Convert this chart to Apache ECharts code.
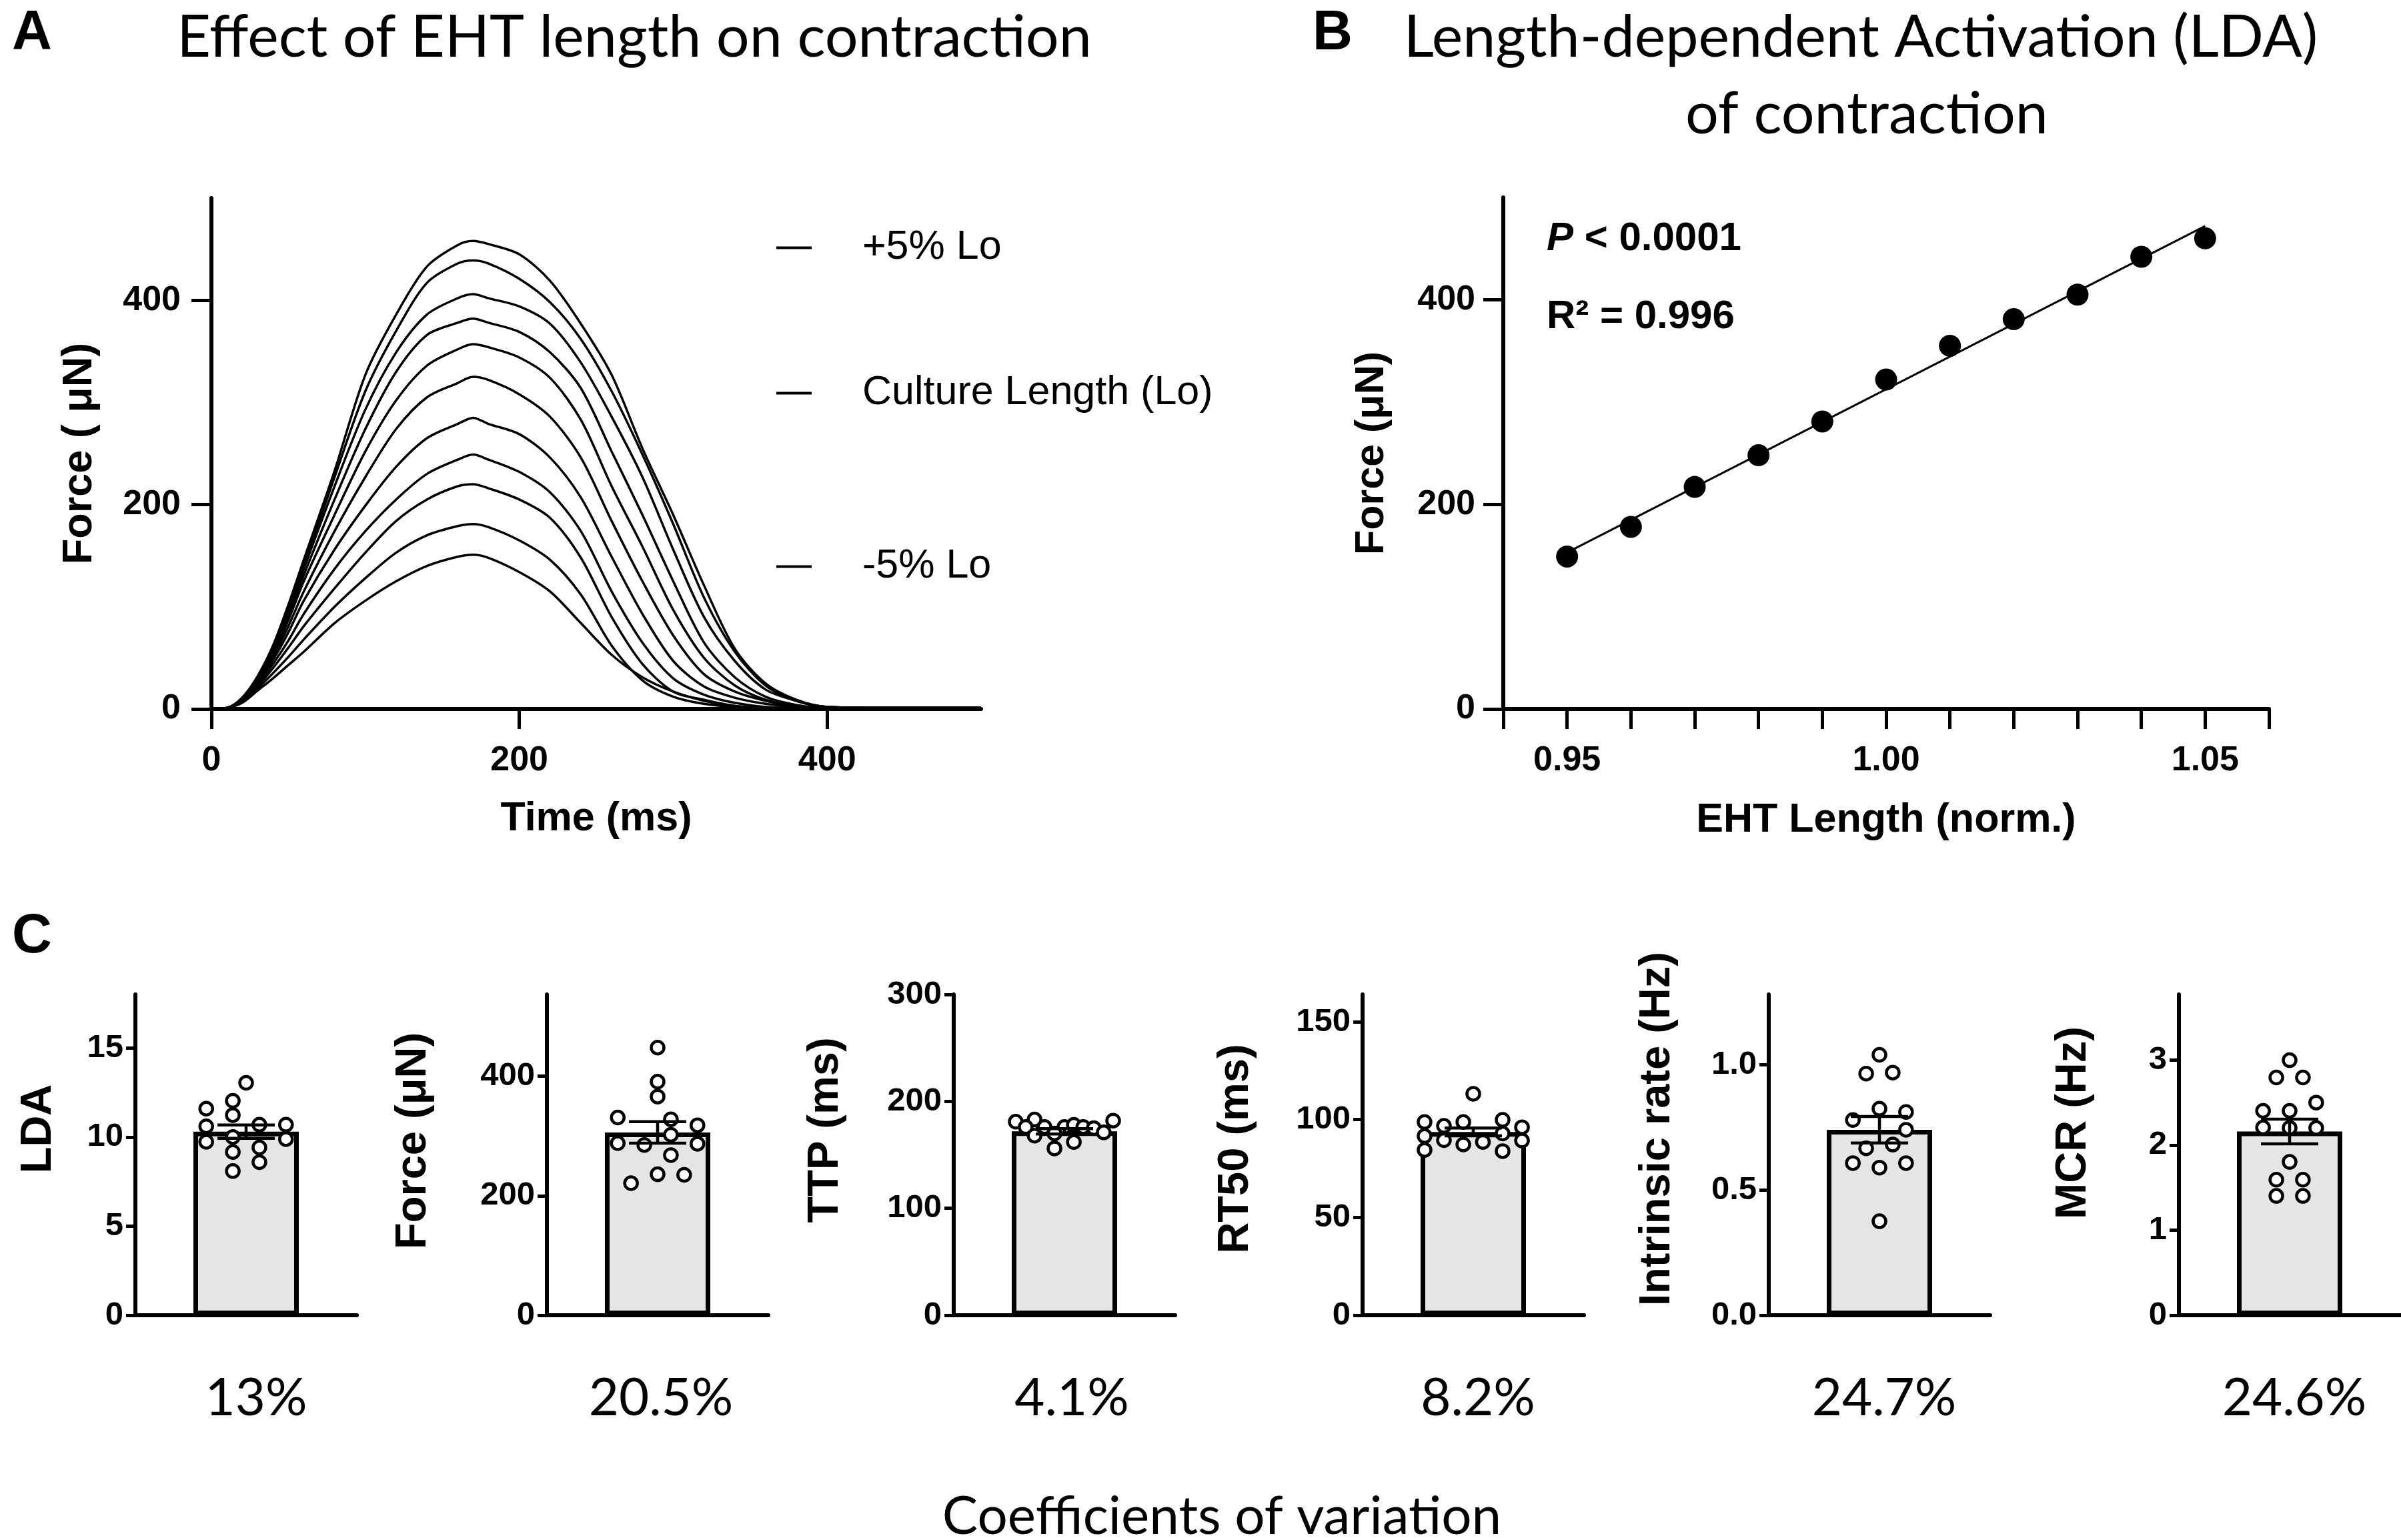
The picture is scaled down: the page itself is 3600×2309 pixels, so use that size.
<!DOCTYPE html>
<html>
<head>
<meta charset="utf-8">
<title>EHT length and contraction</title>
<script src="https://cdn.jsdelivr.net/npm/echarts@6.0.0/dist/echarts.min.js"></script>
<style>
  html, body { margin: 0; padding: 0; background: #fff; }
  #chart { width: 3600px; height: 2309px; }
</style>
</head>
<body>
<div id="chart"></div>
<script>
// A: twitch force traces (time in ms, force in uN)
const timeMs = [0, 10, 20, 30, 40, 50, 60, 80, 100, 120, 140, 160, 170, 180, 200, 220, 240, 260, 280, 300, 320, 340, 360, 380, 400, 450, 500];
const trace105 = [0, 1, 11, 32, 62, 102, 146, 233, 327, 386, 433, 454, 458, 455, 445, 419, 377, 327, 255, 190, 121, 59, 25, 9, 2, 1, 1];
const trace104 = [0, 1, 11, 31, 60, 98, 140, 227, 311, 370, 417, 436, 439, 436, 421, 398, 362, 311, 249, 181, 109, 56, 23, 8, 2, 1, 1];
const trace103 = [0, 1, 10, 30, 58, 95, 137, 218, 293, 349, 386, 402, 406, 402, 394, 377, 339, 286, 227, 156, 90, 47, 19, 8, 2, 1, 1];
const trace102 = [0, 1, 10, 29, 56, 91, 131, 205, 274, 330, 366, 378, 382, 378, 369, 349, 314, 252, 190, 125, 65, 31, 12, 4, 1, 1, 1];
const trace101 = [0, 1, 10, 28, 54, 87, 125, 190, 252, 302, 336, 352, 357, 354, 344, 324, 283, 218, 159, 97, 50, 23, 9, 3, 1, 1, 1];
const trace100 = [0, 1, 9, 27, 51, 81, 115, 174, 227, 274, 305, 319, 325, 322, 308, 286, 246, 184, 125, 72, 34, 17, 8, 3, 1, 1, 1];
const trace099 = [0, 1, 9, 26, 48, 75, 106, 156, 199, 237, 265, 279, 285, 279, 269, 246, 207, 149, 93, 47, 22, 11, 5, 2, 1, 1, 1];
const trace098 = [0, 1, 8, 24, 44, 67, 93, 137, 174, 205, 230, 244, 249, 244, 232, 212, 174, 115, 65, 30, 14, 6, 2, 1, 1, 1, 1];
const trace097 = [0, 1, 8, 22, 40, 60, 81, 118, 153, 184, 205, 218, 220, 216, 205, 187, 148, 90, 44, 17, 9, 3, 1, 1, 1, 1, 1];
const trace096 = [0, 1, 7, 20, 35, 51, 68, 100, 128, 153, 170, 179, 181, 178, 165, 146, 112, 62, 28, 12, 5, 2, 1, 1, 1, 1, 1];
const trace095 = [0, 1, 6, 18, 30, 43, 56, 84, 106, 125, 140, 149, 151, 148, 134, 115, 84, 53, 31, 17, 8, 3, 1, 1, 1, 1, 1];
const traceNames = ['-5% Lo', '-4% Lo', '-3% Lo', '-2% Lo', '-1% Lo', 'Culture Length (Lo)', '+1% Lo', '+2% Lo', '+3% Lo', '+4% Lo', '+5% Lo'];
const traces = [trace095, trace096, trace097, trace098, trace099, trace100, trace101, trace102, trace103, trace104, trace105];
const legendNames = ['+5% Lo', 'Culture Length (Lo)', '-5% Lo'];
const timeTicks = [0, 200, 400];
const forceTicks = [0, 200, 400];

// B: peak force vs normalised length, with the linear fit
const ehtLength = [0.95, 0.96, 0.97, 0.98, 0.99, 1.00, 1.01, 1.02, 1.03, 1.04, 1.05];
const peakForce = [149, 178, 217, 248, 281, 322, 355, 381, 405, 442, 460];
const fitLength = [0.95, 1.05];
const fitForce = [153, 472];
const lengthTicks = [0.94, 0.95, 0.96, 0.97, 0.98, 0.99, 1.00, 1.01, 1.02, 1.03, 1.04, 1.05, 1.06];
const lengthLabels = [0.95, 1.00, 1.05];

// C: per-tissue values, bar = mean, error = SEM
const ldaValues = [13.04, 12.03, 11.23, 11.59, 10.6, 10.69, 10.69, 9.73, 10.0, 9.88, 9.16, 9.41, 8.59, 8.09];
const ldaJitter = [0, -0.12, -0.12, -0.36, -0.36, 0.12, 0.36, -0.36, -0.12, 0.36, -0.12, 0.12, 0.12, -0.12];
const forceValues = [448, 391, 366, 331, 328, 318, 302, 288, 285, 287, 268, 236, 235, 221];
const forceJitter = [0, 0, 0, -0.36, 0.12, 0.36, 0.12, -0.36, -0.12, 0.36, 0.12, 0, 0.24, -0.24];
const ttpValues = [181, 183, 182, 176, 176, 176, 178, 176, 175, 168, 170, 162, 156, 171];
const ttpJitter = [-0.44, -0.27, 0.44, -0.35, -0.18, 0, 0.085, 0.17, 0.265, -0.27, -0.09, 0.085, -0.09, 0.355];
const rt50Values = [113.2, 98.8, 96.8, 98.8, 99.9, 96.1, 91.6, 89.5, 87.3, 88.6, 92.9, 89.3, 84.5, 83.9];
const rt50Jitter = [0, -0.44, -0.265, -0.09, 0.265, 0.44, -0.44, -0.265, -0.09, 0.087, 0.265, 0.44, -0.44, 0.265];
const rateValues = [1.039, 0.964, 0.968, 0.824, 0.779, 0.811, 0.740, 0.666, 0.681, 0.607, 0.589, 0.607, 0.375];
const rateJitter = [0, -0.12, 0.12, 0, -0.24, 0.24, 0.24, -0.12, 0.12, -0.24, 0, 0.24, 0];
const mcrValues = [2.997, 2.794, 2.794, 2.499, 2.402, 2.402, 2.206, 2.201, 2.201, 1.802, 1.593, 1.593, 1.402, 1.402];
const mcrJitter = [0, -0.12, 0.12, 0.24, -0.24, 0, -0.24, 0, 0.24, 0, -0.12, 0.12, -0.12, 0.12];
const barMeans = [10.3, 306, 172, 93.7, 0.74, 2.16];
const barSems = [0.37, 18, 2.5, 2.0, 0.053, 0.145];
const axisMax = [18, 537, 300, 164, 1.28, 3.77];
const cTicks = [[0, 5, 10, 15], [0, 200, 400], [0, 100, 200, 300], [0, 50, 100, 150], [0, 0.5, 1.0], [0, 1, 2, 3]];
const cNames = ['LDA', 'Force (μN)', 'TTP (ms)', 'RT50 (ms)', 'Intrinsic rate (Hz)', 'MCR (Hz)'];
const cvLabels = ['13%', '20.5%', '4.1%', '8.2%', '24.7%', '24.6%'];
const cValues = [ldaValues, forceValues, ttpValues, rt50Values, rateValues, mcrValues];
const cJitter = [ldaJitter, forceJitter, ttpJitter, rt50Jitter, rateJitter, mcrJitter];

// layout of the small panels (px)
const cLeft = [203, 820, 1430, 2043, 2652, 3267];
const cNameGap = [112, 167, 159, 157, 134, 125];
const cNameShift = [78, 42, 74, 18, 78, 96];
const cvShift = [30, 10, 22, 14, 14, 14];

const BOLD = 'Liberation Sans';
const SOFT = 'Lato';

function axisLine() {
  return { show: true, onZero: false, lineStyle: { color: '#000', width: 6 } };
}
function tick(len, values) {
  return { show: true, length: len, lineStyle: { color: '#000', width: 5 }, customValues: values };
}
function tickLabel(size, margin, values, fmt) {
  const l = { color: '#000', fontFamily: BOLD, fontWeight: 'bold', fontSize: size, margin: margin, customValues: values };
  if (fmt) l.formatter = fmt;
  return l;
}
const nameStyle = { color: '#000', fontFamily: BOLD, fontWeight: 'bold', fontSize: 61 };

const grids = [
  { left: 317, top: 297, width: 1154, height: 766, outerBoundsMode: 'none' },
  { left: 2254, top: 296, width: 1148, height: 767, outerBoundsMode: 'none' }
];
cLeft.forEach(l => grids.push({ left: l, top: 1491, width: 332, height: 481, outerBoundsMode: 'none' }));

const xAxes = [
  {
    type: 'value', gridIndex: 0, min: 0, max: 500,
    axisLine: axisLine(), axisTick: tick(30, timeTicks), axisLabel: tickLabel(52, 52, timeTicks),
    splitLine: { show: false },
    name: 'Time (ms)', nameLocation: 'middle', nameGap: 135, nameTextStyle: nameStyle
  },
  {
    type: 'value', gridIndex: 1, min: 0.94, max: 1.06,
    axisLine: axisLine(), axisTick: tick(30, lengthTicks),
    axisLabel: tickLabel(52, 52, lengthLabels, v => v.toFixed(2)),
    splitLine: { show: false },
    name: 'EHT Length (norm.)', nameLocation: 'middle', nameGap: 137, nameTextStyle: nameStyle
  }
];
const yAxes = [
  {
    type: 'value', gridIndex: 0, min: 0, max: 500,
    axisLine: axisLine(), axisTick: tick(30, forceTicks), axisLabel: tickLabel(52, 46, forceTicks),
    splitLine: { show: false },
    name: 'Force ( μN)', nameLocation: 'middle', nameGap: 166,
    nameTextStyle: Object.assign({}, nameStyle, { fontSize: 63 })
  },
  {
    type: 'value', gridIndex: 1, min: 0, max: 500,
    axisLine: axisLine(), axisTick: tick(30, forceTicks), axisLabel: tickLabel(52, 42, forceTicks),
    splitLine: { show: false },
    name: 'Force (μN)', nameLocation: 'middle', nameGap: 166, nameTextStyle: nameStyle
  }
];

cLeft.forEach((l, i) => {
  const g = i + 2;
  xAxes.push({
    type: 'value', gridIndex: g, min: -1, max: 1,
    axisLine: axisLine(), axisTick: { show: false }, axisLabel: { show: false }, splitLine: { show: false },
    name: cvLabels[i], nameLocation: 'middle', nameGap: 86,
    nameTextStyle: { color: '#000', fontFamily: SOFT, fontSize: 78, padding: [0, 0, 0, cvShift[i]] }
  });
  yAxes.push({
    type: 'value', gridIndex: g, min: 0, max: axisMax[i],
    axisLine: axisLine(),
    axisTick: tick(14, cTicks[i]),
    axisLabel: tickLabel(49, 18, cTicks[i], v => (i === 4 ? v.toFixed(1) : String(v))),
    splitLine: { show: false },
    name: cNames[i], nameLocation: 'middle', nameGap: cNameGap[i],
    nameTextStyle: {
      color: '#000', fontFamily: BOLD, fontWeight: 'bold', fontSize: 65,
      padding: [0, 0, 0, cNameShift[i]]
    }
  });
});

const series = [];
traces.forEach((tr, k) => {
  series.push({
    type: 'line', name: traceNames[k], xAxisIndex: 0, yAxisIndex: 0,
    data: timeMs.map((t, j) => [t, tr[j]]),
    smooth: 0.3, showSymbol: false, silent: true,
    itemStyle: { color: '#000' },
    lineStyle: { color: '#000', width: 3.5 }
  });
});

series.push({
  type: 'line', xAxisIndex: 1, yAxisIndex: 1,
  data: fitLength.map((x, j) => [x, fitForce[j]]),
  showSymbol: false, lineStyle: { color: '#000', width: 3 }, z: 2
});
series.push({
  type: 'scatter', xAxisIndex: 1, yAxisIndex: 1,
  data: ehtLength.map((x, j) => [x, peakForce[j]]),
  symbolSize: 33, itemStyle: { color: '#000', opacity: 1 }, z: 3
});

function errorBar(params, api) {
  const x = api.value(0), m = api.value(1), s = api.value(2);
  const hi = api.coord([x, m + s]);
  const lo = api.coord([x, m - s]);
  const half = 43;
  const style = { stroke: '#000', lineWidth: 4.5 };
  return {
    type: 'group',
    children: [
      { type: 'line', shape: { x1: hi[0], y1: hi[1], x2: lo[0], y2: lo[1] }, style },
      { type: 'line', shape: { x1: hi[0] - half, y1: hi[1], x2: hi[0] + half, y2: hi[1] }, style },
      { type: 'line', shape: { x1: lo[0] - half, y1: lo[1], x2: lo[0] + half, y2: lo[1] }, style }
    ]
  };
}

cValues.forEach((vals, i) => {
  const a = i + 2;
  series.push({
    type: 'bar', xAxisIndex: a, yAxisIndex: a,
    data: [[0, barMeans[i]]], barWidth: 158,
    itemStyle: { color: '#e5e5e5', borderColor: '#000', borderWidth: 7, opacity: 1 }, z: 1
  });
  series.push({
    type: 'scatter', xAxisIndex: a, yAxisIndex: a,
    data: vals.map((v, j) => [cJitter[i][j], v]),
    symbol: 'circle', symbolSize: 19,
    itemStyle: { color: '#fff', borderColor: '#000', borderWidth: 4.5, opacity: 1 }, z: 2
  });
  series.push({
    type: 'custom', xAxisIndex: a, yAxisIndex: a,
    data: [[0, barMeans[i], barSems[i]]],
    encode: { x: 0, y: 1 },
    renderItem: errorBar, z: 3
  });
});

function legendAt(name, top) {
  return {
    data: [name], left: 1164, top: top, padding: 0,
    icon: 'rect', itemWidth: 53, itemHeight: 4, selectedMode: false,
    textStyle: { color: '#000', fontFamily: BOLD, fontSize: 61, padding: [0, 0, 0, 71] }
  };
}

function txt(text, x, y, font, size, weight, align) {
  return {
    type: 'text', x: x, y: y,
    style: {
      text: text, fill: '#000', fontFamily: font, fontSize: size,
      fontWeight: weight || 'normal', align: align || 'center', verticalAlign: 'middle'
    }
  };
}

const graphics = [
  txt('A', 48, 51, BOLD, 83, 'bold'),
  txt('B', 1998, 51, BOLD, 83, 'bold'),
  txt('C', 48, 1405, BOLD, 83, 'bold'),
  txt('Effect of EHT length on contraction', 951, 57, SOFT, 88),
  txt('Length-dependent Activation (LDA)', 2790, 57, SOFT, 88),
  txt('of contraction', 2799, 172, SOFT, 88),
  txt('Coefficients of variation', 1832, 2274, SOFT, 80),
  {
    type: 'text', x: 2319, y: 358,
    style: {
      text: '{i|P} < 0.0001', fill: '#000', fontFamily: BOLD, fontSize: 60, fontWeight: 'bold',
      align: 'left', verticalAlign: 'middle',
      rich: { i: { fontStyle: 'italic', fontWeight: 'bold', fontFamily: BOLD, fontSize: 60, fill: '#000' } }
    }
  },
  txt('R² = 0.996', 2319, 475, BOLD, 60, 'bold', 'left')
];

const chart = echarts.init(document.getElementById('chart'));
chart.setOption({
  animation: false,
  backgroundColor: '#fff',
  textStyle: { fontFamily: BOLD },
  grid: grids,
  xAxis: xAxes,
  yAxis: yAxes,
  legend: [
    legendAt(legendNames[0], 341),
    legendAt(legendNames[1], 559),
    legendAt(legendNames[2], 819)
  ],
  graphic: graphics,
  series: series
});
</script>
</body>
</html>
